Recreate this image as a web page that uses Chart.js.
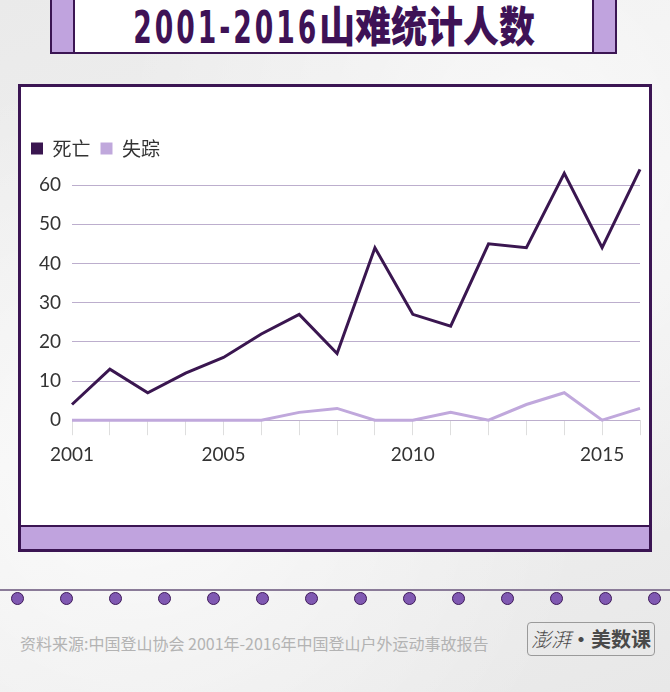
<!DOCTYPE html>
<html>
<head>
<meta charset="utf-8">
<script src="https://cdn.jsdelivr.net/npm/chart.js@4.4.1/dist/chart.umd.min.js"></script>
<style>
    body {
        margin: 0;
        width: 670px;
        height: 692px;
        overflow: hidden;
        position: relative;
        background: #ededed;
        background-image:
            radial-gradient(ellipse at 20% 70%, rgba(255,255,255,.7), rgba(255,255,255,0) 60%),
            radial-gradient(ellipse at 80% 20%, rgba(255,255,255,.6), rgba(255,255,255,0) 55%),
            linear-gradient(160deg, #eaeaea, #f1f1f1 50%, #e8e8e8);
        font-family: "Noto Sans CJK SC", "Noto Sans", sans-serif;
    }
    .title-box {
        position: absolute;
        left: 50px;
        top: -4px;
        width: 563px;
        height: 54px;
        border: 2px solid #3b1553;
        background: #fff;
    }
    .title-box .side {
        position: absolute;
        top: 0;
        bottom: 0;
        width: 21px;
        background: #c0a3de;
    }
    .title-box .side.l { left: 0; border-right: 2px solid #3b1553; }
    .title-box .side.r { right: 0; border-left: 2px solid #3b1553; }
    .title-box .txt {
        position: absolute;
        left: 0;
        right: 0;
        top: 3px;
        text-align: center;
        color: #3e1256;
        font-weight: 900;
        font-size: 40px;
        line-height: 46px;
        white-space: nowrap;
    }
    .title-box .txt .num {
        font-family: "DejaVu Sans Condensed", "DejaVu Sans", sans-serif;
        font-weight: bold;
        display: inline-block;
        transform: scaleX(0.74) scaleY(1.12);
        transform-origin: right center;
        letter-spacing: 4px;
        margin-left: -40px;
    }
    .title-box .txt .cn {
        font-family: "Noto Sans CJK SC", sans-serif;
        font-weight: 900;
        display: inline-block;
        transform: scaleX(0.9) scaleY(1.05);
        transform-origin: left center;
    }
    .panel {
        position: absolute;
        left: 18px;
        top: 84px;
        width: 628px;
        height: 438px;
        border: 3px solid #3b1553;
        border-bottom: 2px solid #3b1553;
        background: #fff;
    }
    .panel-foot {
        position: absolute;
        left: 18px;
        top: 527px;
        width: 628px;
        height: 22px;
        border: 3px solid #3b1553;
        border-top: 0;
        background: #c0a3de;
    }
    #chart-wrap {
        position: absolute;
        left: 21px;
        top: 87px;
        width: 627px;
        height: 435px;
    }
    .dots-line {
        position: absolute;
        left: 0;
        top: 589px;
        width: 670px;
        height: 2px;
        background: #8a7b98;
    }
    .dot {
        position: absolute;
        top: 592px;
        width: 11px;
        height: 11px;
        border-radius: 50%;
        background: #8059b2;
        border: 1px solid #3e1a5a;
    }
    .source {
        position: absolute;
        left: 20px;
        top: 631px;
        font-size: 16px;
        color: #b3b3b3;
        white-space: nowrap;
    }
    .logo {
        position: absolute;
        left: 527px;
        top: 622px;
        width: 126px;
        height: 32px;
        border: 1px solid #9a9a9a;
        border-radius: 4px;
        color: #4a4a4a;
        font-size: 20px;
        line-height: 32px;
        text-align: center;
        white-space: nowrap;
        font-weight: bold;
    }
    .logo .brush {
        font-family: "Noto Sans CJK SC", sans-serif;
        font-weight: 300;
        font-style: italic;
    }
</style>
</head>
<body>
<div class="title-box">
    <div class="side l"></div>
    <div class="side r"></div>
    <div class="txt"><span class="num">2001-2016</span><span class="cn">山难统计人数</span></div>
</div>

<div class="panel"></div>
<div class="panel-foot"></div>
<div id="chart-wrap"><canvas id="line-chart" width="627" height="435"></canvas></div>

<div class="dots-line"></div>
<div id="dots"></div>

<div class="source">资料来源:中国登山协会 2001年-2016年中国登山户外运动事故报告</div>
<div class="logo"><span class="brush">澎湃</span>·美数课</div>

<script>
    // Data
    var years = ["2001", "2002", "2003", "2004", "2005", "2006", "2007", "2008",
                 "2009", "2010", "2011", "2012", "2013", "2014", "2015", "2016"];
    var deaths = [4, 13, 7, 12, 16, 22, 27, 17, 44, 27, 24, 45, 44, 63, 44, 64];
    var missing = [0, 0, 0, 0, 0, 0, 2, 3, 0, 0, 2, 0, 4, 7, 0, 3];
    var shownYears = ["2001", "2005", "2010", "2015"];
    var yMax = 60;
    var yStep = 10;

    // Decorative dots
    var dots = document.getElementById("dots");
    for (var i = 0; i < 14; i++) {
        var d = document.createElement("div");
        d.className = "dot";
        d.style.left = (11 + i * 49) + "px";
        dots.appendChild(d);
    }

    // Extra space under the legend
    var legendGap = {
        id: "legendGap",
        beforeInit: function (chart) {
            var fit = chart.legend.fit;
            chart.legend.fit = function () {
                fit.bind(chart.legend)();
                this.height += 17;
            };
        }
    };

    var ctx = document.getElementById("line-chart").getContext("2d");
    var myChart = new Chart(ctx, {
        type: "line",
        data: {
            labels: years,
            datasets: [{
                label: "死亡",
                data: deaths,
                borderColor: "#3a1650",
                backgroundColor: "#3a1650",
                borderWidth: 3,
                pointRadius: 0,
                tension: 0,
                clip: false
            }, {
                label: "失踪",
                data: missing,
                borderColor: "#c0a8dc",
                backgroundColor: "#c0a8dc",
                borderWidth: 3,
                pointRadius: 0,
                tension: 0,
                clip: false
            }]
        },
        options: {
            responsive: false,
            animation: false,
            layout: {
                padding: { left: 0, right: 8, top: 42, bottom: 48 }
            },
            plugins: {
                legend: {
                    position: "top",
                    align: "start",
                    labels: {
                        boxWidth: 12,
                        boxHeight: 12,
                        padding: 10,
                        color: "#333",
                        font: { family: "'Noto Sans CJK SC'", size: 19 },
                        generateLabels: function (chart) {
                            var items = Chart.defaults.plugins.legend.labels.generateLabels(chart);
                            items.forEach(function (it) { it.lineWidth = 0; });
                            return items;
                        }
                    }
                },
                tooltip: { enabled: false }
            },
            scales: {
                x: {
                    offset: false,
                    border: { display: false },
                    grid: {
                        drawOnChartArea: false,
                        drawTicks: true,
                        tickLength: 15,
                        color: "#dedede"
                    },
                    ticks: {
                        autoSkip: false,
                        maxRotation: 0,
                        padding: 8,
                        color: "#333",
                        font: { family: "Lato", size: 19 },
                        callback: function (value) {
                            var lbl = this.getLabelForValue(value);
                            return shownYears.indexOf(lbl) >= 0 ? lbl : "";
                        }
                    }
                },
                y: {
                    min: 0,
                    max: yMax,
                    afterFit: function (scale) { scale.width = 51; },
                    border: { display: false },
                    grid: {
                        drawTicks: false,
                        color: "#bcaecd",
                        lineWidth: 1
                    },
                    ticks: {
                        stepSize: yStep,
                        padding: 11,
                        color: "#333",
                        font: { family: "Lato", size: 19 }
                    }
                }
            }
        },
        plugins: [legendGap]
    });
</script>
</body>
</html>
